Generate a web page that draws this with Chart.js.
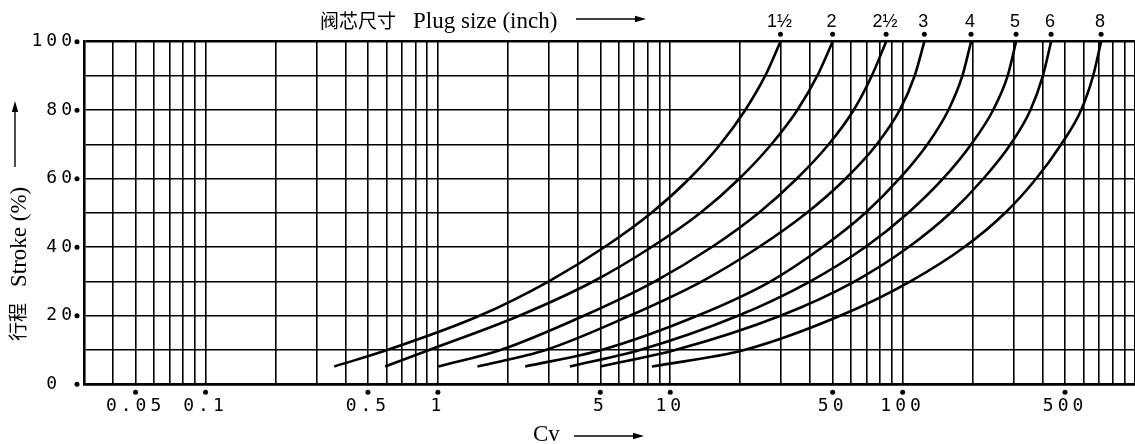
<!DOCTYPE html>
<html><head><meta charset="utf-8">
<script src="https://cdn.jsdelivr.net/npm/chart.js@4.4.1/dist/chart.umd.min.js"></script>
<style>html,body{margin:0;padding:0;background:#fff}#wrap{width:1135px;height:444px}</style>
</head><body><div id="wrap"><canvas id="c" width="1135" height="444"></canvas></div>
<script>
// ---- data ----
const strokePct = [5.2, 10, 20, 30, 40, 50, 60, 70, 80, 90, 100];
const plugSizes = ['1½', '2', '2½', '3', '4', '5', '6', '8'];
const cvPlug1_5 = [0.358, 0.605, 1.51, 2.99, 5.20, 8.28, 12.07, 16.4, 21.0, 25.6, 29.8];
const cvPlug2   = [0.593, 0.917, 2.24, 4.66, 8.28, 13.46, 19.8, 27.2, 35.2, 42.9, 49.96];
const cvPlug2_5 = [1.006, 1.86, 4.24, 8.56, 15.06, 24.0, 35.0, 48.0, 61.5, 73.6, 84.9];
const cvPlug3   = [1.48, 2.91, 6.68, 13.64, 24.0, 38.6, 56.8, 77.3, 97.1, 112.6, 124.0];
const cvPlug4   = [2.375, 5.05, 13.07, 26.95, 45.1, 69.1, 96.8, 127.7, 157.3, 180.7, 197.0];
const cvPlug5   = [3.70, 7.40, 19.56, 39.9, 68.9, 105.5, 149.2, 197.0, 245.0, 283.1, 307.7];
const cvPlug6   = [5.0, 10.5, 29.8, 62.0, 105.8, 160.5, 222.5, 290.9, 354.6, 401.3, 435.3];
const cvPlug8   = [8.34, 20.8, 53.8, 107.6, 183.8, 275.9, 375.2, 480.8, 586.1, 660.2, 714.6];
const cvSeries = [cvPlug1_5, cvPlug2, cvPlug2_5, cvPlug3, cvPlug4, cvPlug5, cvPlug6, cvPlug8];

const xGridValues = [0.03,0.04,0.05,0.06,0.07,0.08,0.09,
  0.1,0.2,0.3,0.4,0.5,0.6,0.7,0.8,0.9,
  1,2,3,4,5,6,7,8,9,
  10,20,30,40,50,60,70,80,90,
  100,200,300,400,500,600,700,800,900,1000];
const xLabelValues = [0.05, 0.1, 0.5, 1, 5, 10, 50, 100, 500];
const xLabelTexts  = ['0.05', '0.1', '0.5', '1', '5', '10', '50', '100', '500'];
const yLabelValues = [0, 20, 40, 60, 80, 100];
const yLabelTexts  = ['0 ', '20', '40', '60', '80', '100'];

const titleCn = '阀芯尺寸';
const titleEn = 'Plug size (inch)';
const yTitleCn = '行程';
const yTitleEn = 'Stroke (%)';
const xTitle = 'Cv';

// ---- helpers ----
function arrow(ctx, x1, y1, x2, y2) {
  const a = Math.atan2(y2 - y1, x2 - x1), L = 11, W = 3.2;
  ctx.beginPath(); ctx.moveTo(x1, y1);
  ctx.lineTo(x2 - L * Math.cos(a), y2 - L * Math.sin(a)); ctx.stroke();
  ctx.beginPath(); ctx.moveTo(x2, y2);
  ctx.lineTo(x2 - L * Math.cos(a) + W * Math.sin(a), y2 - L * Math.sin(a) - W * Math.cos(a));
  ctx.lineTo(x2 - L * Math.cos(a) - W * Math.sin(a), y2 - L * Math.sin(a) + W * Math.cos(a));
  ctx.closePath(); ctx.fill();
}
function dot(ctx, x, y, r) { ctx.beginPath(); ctx.arc(x, y, r, 0, Math.PI * 2); ctx.fill(); }

const deco = {
  id: 'deco',
  beforeDraw(chart) { chart.ctx.letterSpacing = '4px'; },
  afterDraw(chart) {
    const ctx = chart.ctx, xs = chart.scales.x, ys = chart.scales.y, ca = chart.chartArea;
    ctx.save();
    ctx.letterSpacing = '0px';
    ctx.fillStyle = '#000'; ctx.strokeStyle = '#000';
    yLabelValues.forEach(v => dot(ctx, ca.left - 7, ys.getPixelForValue(v), 2.5));
    xLabelValues.forEach(v => dot(ctx, xs.getPixelForValue(v), ca.bottom + 8, 2.5));
    ctx.font = '18px "Liberation Sans", Arial, sans-serif';
    ctx.textAlign = 'center'; ctx.textBaseline = 'middle';
    chart.data.datasets.forEach((ds, i) => {
      const last = ds.data[ds.data.length - 1];
      const px = xs.getPixelForValue(last.x);
      dot(ctx, px, ca.top - 7.5, 2.5);
      ctx.fillText(plugSizes[i], px - 1, ca.top - 20);
    });
    // top title
    ctx.textAlign = 'left'; ctx.textBaseline = 'alphabetic';
    ctx.font = '19px "Noto Sans CJK SC", sans-serif';
    ctx.fillText(titleCn, 320, 28);
    ctx.font = '23px "Liberation Serif", "Times New Roman", serif';
    ctx.fillText(titleEn, 413, 28);
    ctx.lineWidth = 1.4;
    arrow(ctx, 576, 19, 646, 19);
    // x title
    ctx.fillText(xTitle, 533, 441);
    arrow(ctx, 574, 436, 644, 436);
    // y title (rotated)
    ctx.save();
    ctx.translate(20, 0); ctx.rotate(-Math.PI / 2);
    ctx.textBaseline = 'middle';
    ctx.font = '19px "Noto Sans CJK SC", sans-serif';
    ctx.fillText(yTitleCn, -341, -2);
    ctx.font = '23px "Liberation Serif", "Times New Roman", serif';
    ctx.fillText(yTitleEn, -287, 0);
    arrow(ctx, -167, -5, -101, -5);
    ctx.restore();
    ctx.restore();
  }
};

const datasets = cvSeries.map((cv, i) => ({
  label: plugSizes[i],
  data: cv.map((v, j) => ({ x: v, y: strokePct[j] })),
  borderColor: '#000', borderWidth: 2.6, pointRadius: 0,
  cubicInterpolationMode: 'monotone', fill: false, clip: false
}));

new Chart(document.getElementById('c'), {
  type: 'line',
  data: { datasets },
  options: {
    responsive: false, animation: false, devicePixelRatio: 1,
    layout: { padding: { top: 41.7, right: 0, left: 0, bottom: 0 } },
    plugins: { legend: { display: false }, title: { display: false }, tooltip: { enabled: false } },
    scales: {
      x: {
        type: 'logarithmic', min: 0.03, max: 1000,
        afterBuildTicks: s => { s.ticks = xGridValues.map(v => ({ value: v })); },
        afterFit: s => { s.height = 59.7; },
        ticks: {
          autoSkip: false, maxRotation: 0, minRotation: 0, padding: 0, color: '#000',
          font: { family: '"DejaVu Sans Mono", monospace', size: 18 },
          callback: v => { const i = xLabelValues.indexOf(v); return i >= 0 ? xLabelTexts[i] : ''; }
        },
        grid: { color: '#000', lineWidth: 1.6, drawTicks: true, tickLength: 11, tickColor: 'rgba(0,0,0,0)' },
        border: { color: '#000', width: 2.6 }
      },
      y: {
        type: 'linear', min: 0, max: 100,
        afterFit: s => { s.width = 84; },
        ticks: {
          stepSize: 10, padding: 8, color: '#000',
          font: { family: '"DejaVu Sans Mono", monospace', size: 18 },
          callback: v => { const i = yLabelValues.indexOf(v); return i >= 0 ? yLabelTexts[i] : ''; }
        },
        grid: { color: '#000', lineWidth: c => (c.tick && c.tick.value === 100 ? 2.6 : 1.6), drawTicks: false },
        border: { color: '#000', width: 2.6 }
      }
    }
  },
  plugins: [deco]
});
</script></body></html>
